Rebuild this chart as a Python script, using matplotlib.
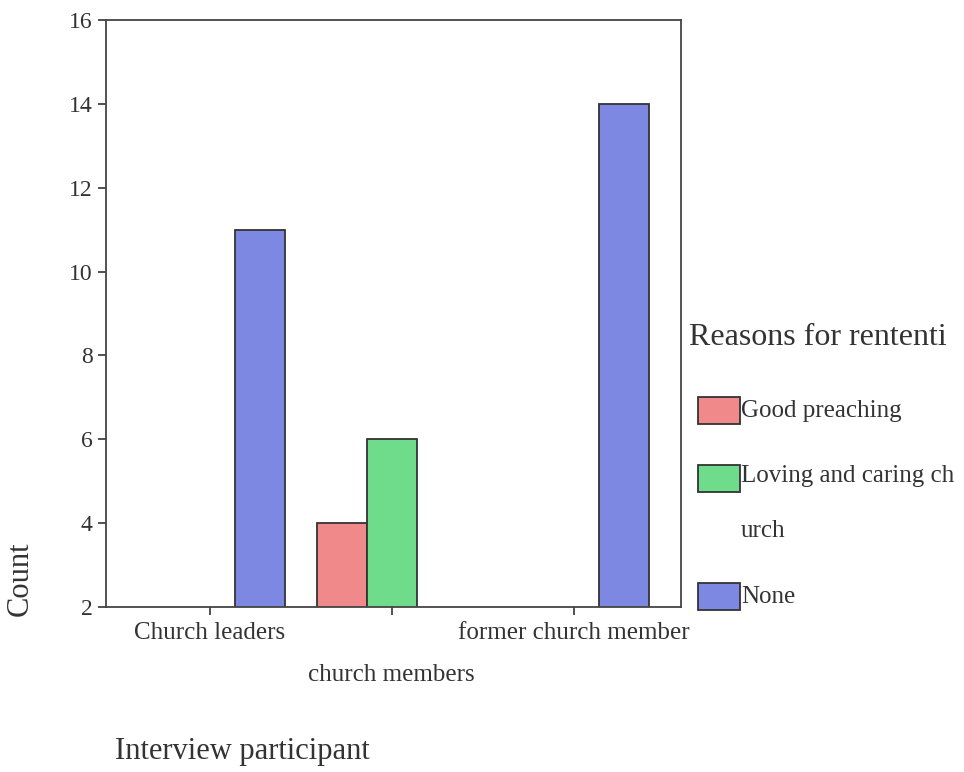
import numpy as np
import matplotlib.pyplot as plt
from matplotlib.patches import Rectangle

plt.rcParams["font.family"] = ["Liberation Serif", "DejaVu Serif"]
plt.rcParams["text.color"] = "#333333"
plt.rcParams["axes.labelcolor"] = "#333333"
plt.rcParams["xtick.color"] = "#333333"
plt.rcParams["ytick.color"] = "#333333"

groups = ["Church leaders", "church members", "former church member"]
reasons = ["Good preaching", "Loving and caring church", "None"]
legend_labels = ["Good preaching", "Loving and caring ch\nurch", "None"]
counts = {
    "Good preaching": [0, 4, 0],
    "Loving and caring church": [0, 6, 0],
    "None": [11, 0, 14],
}
colors = ["#f08a8a", "#6fdc8c", "#7d88e2"]

fig = plt.figure(figsize=(9.64, 7.72), dpi=100)
ax = fig.add_axes([0.110, 0.2137, 0.5965, 0.7603])

x = np.arange(len(groups))
w = 0.275
for i, r in enumerate(reasons):
    vals = np.array(counts[r], dtype=float)
    keep = vals > 0
    ax.bar(x[keep] + (i - 1) * w, vals[keep], width=w, color=colors[i],
           edgecolor="#333333", linewidth=1.3, zorder=2)

ax.set_xlim(-0.57, 2.59)
ax.set_ylim(2, 16)
ax.set_yticks(range(2, 17, 2))
ax.set_xticks(x)
ax.set_xticklabels(groups, fontsize=18)
ax.tick_params(axis="y", labelsize=17)
ax.tick_params(axis="both", length=6, width=1.2, direction="out")
ax.tick_params(axis="x", pad=5)
ax.xaxis.get_major_ticks()[1].set_pad(35)
for s in ax.spines.values():
    s.set_color("#444444")
    s.set_linewidth(1.3)

fig.text(0.021, 0.25, "Count", rotation=90, fontsize=22, ha="center", va="center")
fig.text(0.119, 0.026, "Interview participant", fontsize=22, ha="left", va="center")

# legend
fig.text(0.715, 0.563, "Reasons for rententi", fontsize=23, ha="left", va="center")
patch_tops = [397, 465, 583]
text_y = [411, 478, 597]
for i, lab in enumerate(legend_labels):
    y0 = 1 - (patch_tops[i] + 27) / 772
    fig.add_artist(Rectangle((698 / 964, y0), 42 / 964, 27 / 772, facecolor=colors[i],
                             edgecolor="#333333", linewidth=1.3, transform=fig.transFigure))
    if "\n" in lab:
        fig.text(741 / 964, 1 - (text_y[i] - 13) / 772, lab, fontsize=18, ha="left", va="top",
                 linespacing=2.95)
    else:
        fig.text(741 / 964, 1 - text_y[i] / 772, lab, fontsize=18, ha="left", va="center")

fig.savefig("out.png", dpi=100)
